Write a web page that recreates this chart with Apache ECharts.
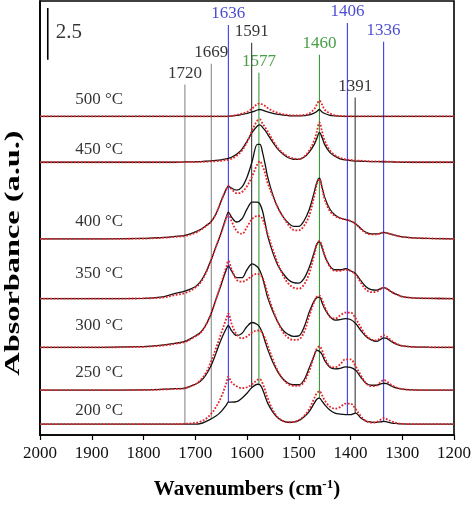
<!DOCTYPE html>
<html><head><meta charset="utf-8">
<script src="https://cdn.jsdelivr.net/npm/echarts@6/dist/echarts.min.js"></script>
<style>html,body{margin:0;padding:0;background:#fff}#c{width:474px;height:505px}</style>
</head><body><div id="c"></div>
<script>
// ---- DATA (absorbance, in units where 52 units = the 2.5 a.u. scale bar) ----
const wavenumbers = [2000,1900,1800,1780,1760,1740,1720,1700,1690,1680,
  1670,1660,1650,1640,1636,1630,1620,1610,1600,1590,
  1580,1575,1570,1565,1560,1550,1540,1530,1520,1510,
  1500,1490,1480,1470,1465,1460,1455,1450,1440,1430,
  1420,1410,1400,1390,1380,1370,1360,1350,1340,1336,
  1330,1320,1310,1300,1280,1250,1200];

const temperatures = ['200','250','300','350','400','450','500'];

const black500 = [0,0,0,0,0,0,0,0,0,0, 0,0,0,0,0.2,0.4,1,2,3,4.5, 6.5,7,6.3,5.3,4.5,3,2,1.3,0.8,0.5, 0.5,0.8,1.5,3.5,5,7,4.5,3,1.2,0.5, 0.3,0,0,0,0,0,0,0,0,0, 0,0,0,0,0,0,0];
const red500   = [0,0,0,0,0,0,0,0,0,0, 0,0,0,0,0.3,0.6,1.5,2.8,4.5,8, 12.5,13,12,10.5,8.5,5.5,3.5,2.2,1.5,1, 1,1.5,3,7.5,12,16,12,7,3,1.2, 0.5,0.2,0,0,0,0,0,0,0,0, 0,0,0,0,0,0,0];
const black450 = [0,0,0,0,0,0,0.3,0.5,0.7,1, 1.3,1.8,2.5,3.5,4,5,8,13,21,30, 36.5,37.5,35,32,28,20,13,8,4.5,3, 2.8,5,10,18,24,30,25,18,10,6, 3.5,2.3,1.6,1.2,1,0.8,0.7,0.6,0.5,0.5, 0.4,0.3,0.2,0,0,0,0];
const red450   = [0,0,0,0,0,0,0.2,0.3,0.4,0.6, 0.8,1,1.5,2.2,2.5,3.5,6.5,11.5,20,32, 42,43,39,35,31,22,14,9,5.5,3.8, 3.2,5.5,11.5,22,31,40,31,22,12,7, 4.5,3,2.3,1.8,1.5,1.2,1,0.9,0.8,0.8, 0.7,0.5,0.3,0.2,0,0,0];
const black400 = [0,0,0.5,1,1.5,2.5,3.5,7,9.5,13, 17,25,38,50,53,51,49,52,62,78, 95,95,87,75,62,44,31,22,16,12.5, 12.5,18,29,47,57,61,52,42,30,24, 21,19.5,18,15,10.5,6.5,5,5,6,6.5, 6,4.5,3,2,1,0.5,0];
const red400   = [0,0,0.3,0.7,1.2,2,3,6,9,12.5, 17,25,38,50,53,50,46,47,53,63, 75,78,73,66,56,43,31,22,14,9, 8.5,13,23,43,55,60,51,40,28,23, 20.5,19.5,18,15,10,6,4.5,4.5,5.8,6.5, 6,4.5,3,2,1,0.5,0];
const black350 = [0,0,0.3,0.8,2,5,7.5,12,17,26, 38,52,66,82,87,82,77,80,90,97, 97,95,88,76,63,46,33,25,19,16, 15.5,20,31,47,55,57,51,43,33,29, 29,30,28,25,18,12,9,8.5,10.5,11, 10,6.5,4,2,0.8,0.3,0];
const red350   = [0,0,0.2,0.5,1.2,3.5,5.5,11,16,25, 38,52,66,81,85,78,68,65,72,80, 83,83,80,73,65,49,35,23,15,11, 10,14,25,44,54,58,53,44,32,28, 28,29,28,24,16,9,6.5,7,10,11, 10,6.5,4,2,0.8,0.3,0];
const black300 = [0,0,0.8,1.5,2.5,4,6,11.5,15,22, 33,48,63,78,82,77,70,70,78,84, 81,77,70,60,50,36,25,17,13,11, 11.5,20,35,47,50,50.5,45,39,31,27.5, 28,29,28,24,17,11,7.5,6,8.5,9.5, 9,5.5,3,1.5,0.5,0.2,0];
const red300   = [0,0,0.6,1.2,2,3.5,5.5,11,14.5,22, 33,48,64,81,87,79,68,66,68,72, 74,73,70,63,54,38,25,15,9.5,7.5, 8,15,31,46,51,52,48,41,31,29, 32,35,35,29,20,12,8,7,11,12.3, 11,6.5,3.5,1.5,0.5,0.2,0];
const black250 = [0,0,0.3,0.5,1,1.5,2.2,6,9,15, 24,37,51,62,65,60,55,57,64,68, 66,63,57,49,41,28,18,11,7,5.5, 5.5,10,22,35,40,39,36,30,23,21.5, 22,23.5,23,20,13,7,5,5,6.5,7, 6.5,4,2,1,0.3,0,0];
const red250   = [0,0,0.2,0.4,0.8,1.3,2,6,10,17, 28,42,57,72,77,67,56,52,54,58, 60,60,57,52,45,31,19,11,6,4.5, 4.5,8,19,35,42,44,40,33,24,23, 26,31,31,24,15,7,4,4.5,9,10.3, 9,5,2.5,1,0.3,0,0];
const black200 = [0,0,0,0,0,0,0,0,0.5,2.4, 5,8,12.5,19,22,22,22.5,26,31,37, 40,39.5,35,28,21,12,6,3,1.8,2, 3.5,7,12.5,21,25,26,23,19.5,14,11, 10,9.5,9.5,11,6,3,2,1.7,2.3,2.7, 2.2,1,0.5,0.2,0,0,0];
const red200   = [0,0,0,0,0,0,0.3,1.2,2.5,5, 10,17,27,41,47.7,42,38,36,37,40, 44.5,45,41,34,26,14,6.5,3,1.8,2, 4,8,15,26,31,33,29,24,17.5,15.5, 17,20.5,20.5,15,8,3,1.5,2,5,6, 5,2.5,1,0.3,0,0,0];

const peakWavenumbers = [1720,1669,1636,1591,1577,1460,1406,1391,1336];
const peakGroups      = ['gray','gray','blue','black','green','green','blue','black','blue'];

const scaleBarValue = 2.5;           // a.u.
const scaleBarUnits = 52;            // same size in the data units above

// ---- LAYOUT (positions, not data) ----
const layout = {
  baseline: {'200':11,'250':45,'300':88,'350':137,'400':197,'450':274,'500':320},
  tempLabelY: {'200':25,'250':63,'300':110,'350':162,'400':214,'450':287,'500':337},
  tempLabelX: 1932,
  peakTop: [352,373,412,394,364,382,414,339,395],
  scaleBarX: 1985, scaleBarBottom: 377, scaleLabelX: 1944, scaleLabelY: 404,
  yMax: 436
};
const AU = scaleBarValue / scaleBarUnits;
const FONT = 'Liberation Serif';
const colors = {
  gray:  {line:'#8a8a8a', text:'#000'},
  blue:  {line:'#3b3bef', text:'#1c1cc8'},
  black: {line:'#3a3a3a', text:'#000'},
  green: {line:'#3a9d3a', text:'#1a861a'}
};
const curves = {
  '200':[black200,red200],'250':[black250,red250],'300':[black300,red300],
  '350':[black350,red350],'400':[black400,red400],'450':[black450,red450],'500':[black500,red500]
};

function valueAt(arr, w){
  for (let i=0;i<wavenumbers.length-1;i++){
    const a=wavenumbers[i], b=wavenumbers[i+1];
    if (w<=a && w>=b){ const t=(a-w)/(a-b); return arr[i]+(arr[i+1]-arr[i])*t; }
  }
  return 0;
}

const series = [];
// reference lines
peakWavenumbers.forEach((w,i)=>{
  const c = colors[peakGroups[i]];
  const bottom = layout.baseline['200'] + valueAt(black200, w);
  series.push({type:'line', silent:true, symbol:'none', z:1, animation:false,
    data:[[w,bottom*AU],[w,layout.peakTop[i]*AU]],
    lineStyle:{color:c.line, width:1.1}});
});
series.push({type:'scatter', silent:true, z:5, animation:false, symbolSize:1,
  itemStyle:{color:'rgba(0,0,0,0)'},
  data: peakWavenumbers.map((w,i)=>({value:[w, layout.peakTop[i]*AU],
    label:{show:true, formatter:String(w), color:colors[peakGroups[i]].text}})),
  label:{show:true, position:'top', distance:2, fontFamily:FONT, fontSize:17}
});
// spectra
temperatures.forEach(t=>{
  const off = layout.baseline[t];
  const [b,r] = curves[t];
  series.push({type:'line', silent:true, symbol:'none', smooth:0.35, z:3, animation:false,
    data: wavenumbers.map((w,i)=>[w,(off+b[i])*AU]),
    lineStyle:{color:'#111', width:1.3}});
  series.push({type:'line', silent:true, symbol:'none', smooth:0.35, z:4, animation:false,
    data: wavenumbers.map((w,i)=>[w,(off+r[i])*AU]),
    lineStyle:{color:'#e3262b', width:1.8, type:[1.8,1.6]}});
});
// temperature labels
series.push({type:'scatter', silent:true, z:5, animation:false, symbolSize:1,
  itemStyle:{color:'rgba(0,0,0,0)'},
  data: temperatures.map(t=>({value:[layout.tempLabelX, layout.tempLabelY[t]*AU], name:t})),
  label:{show:true, position:'inside', align:'left', verticalAlign:'middle',
    formatter:p=>p.name+' °C', fontFamily:FONT, fontSize:17, color:'#000'}
});
// scale bar
series.push({type:'line', silent:true, symbol:'none', z:5, animation:false,
  data:[[layout.scaleBarX, layout.scaleBarBottom*AU],[layout.scaleBarX,(layout.scaleBarBottom+scaleBarUnits)*AU]],
  lineStyle:{color:'#000', width:1.6}});
series.push({type:'scatter', silent:true, z:5, animation:false, symbolSize:1,
  itemStyle:{color:'rgba(0,0,0,0)'},
  data:[{value:[layout.scaleLabelX, layout.scaleLabelY*AU], name:String(scaleBarValue)}],
  label:{show:true, position:'inside', formatter:p=>p.name, fontFamily:FONT, fontSize:21, color:'#000'}
});

const chart = echarts.init(document.getElementById('c'), null, {renderer:'canvas'});
chart.setOption({
  animation:false,
  backgroundColor:'#fff',
  grid:{left:40, right:19, top:1, bottom:68, show:true, borderColor:'#000', borderWidth:1.6},
  xAxis:{type:'value', min:1200, max:2000, interval:100, inverse:true,
    axisLine:{lineStyle:{color:'#000', width:1.6}},
    axisTick:{show:true, length:5, lineStyle:{color:'#000', width:1.2}},
    axisLabel:{color:'#111', fontSize:17, fontFamily:FONT, margin:10, showMinLabel:true, showMaxLabel:true,
      formatter:v=>String(v)},
    splitLine:{show:false},
    name:'Wavenumbers (cm{sup|-1})', nameLocation:'middle', nameGap:43,
    nameTextStyle:{fontFamily:FONT, fontSize:21, fontWeight:'bold', color:'#000',
      rich:{sup:{fontFamily:FONT, fontSize:13, fontWeight:'bold', color:'#000', verticalAlign:'top', padding:[0,0,10,0]}}}
  },
  yAxis:{type:'value', min:0, max:layout.yMax*AU,
    axisLine:{show:true, lineStyle:{color:'#000', width:1.6}},
    axisTick:{show:false}, axisLabel:{show:false}, splitLine:{show:false}},
  graphic:[{type:'text', x:13, y:253, rotation:Math.PI/2, scaleX:1.47,
    style:{text:'Absorbance (a.u.)', font:'bold 22px "Liberation Serif"', fill:'#000', align:'center', verticalAlign:'middle'}}],
  series: series
});
</script></body></html>
